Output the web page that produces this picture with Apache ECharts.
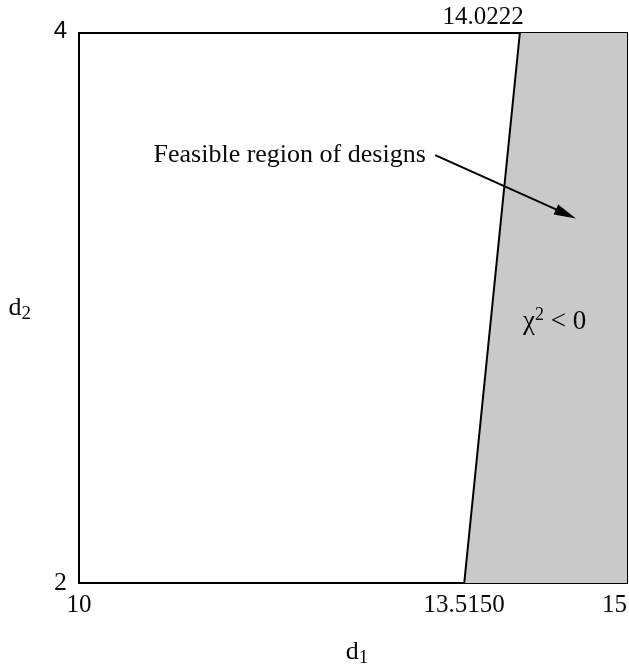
<!DOCTYPE html>
<html>
<head>
<meta charset="utf-8">
<script src="https://cdn.jsdelivr.net/npm/echarts@6/dist/echarts.min.js"></script>
<style>
  html, body { margin: 0; padding: 0; background: #fff; }
  #chart { width: 629px; height: 664px; }
</style>
</head>
<body>
<div id="chart"></div>
<script>
// Axis ranges and tick values
const xRange = [10, 15];
const yRange = [2, 4];
const xTicksBottom = [10, 13.5150, 15];
const xTicksTop = [14.0222];
const yTicks = [2, 4];

// Boundary line chi^2 = 0 through (d1, d2)
const boundaryD1 = [13.5150, 14.0222];
const boundaryD2 = [2, 4];

// Annotation arrow (start -> tip) in data units
const arrowStart = [13.25, 3.556];
const arrowTip = [14.443, 3.342];

// Label anchors in data units
const feasibleLabelAt = [10.68, 3.555];
const chiLabelAt = [14.34, 2.95];

const serif = '"Liberation Serif", "Times New Roman", serif';
const sans = '"Liberation Sans", Arial, sans-serif';
const ink = '#0a0a0a';

const boundaryPts = boundaryD1.map((d1, i) => [d1, boundaryD2[i]]);

const chart = echarts.init(document.getElementById('chart'), null, { renderer: 'canvas' });

const fmtX = v => {
  if (Math.abs(v - 13.515) < 1e-6) return '13.5150';
  if (Math.abs(v - 14.0222) < 1e-6) return '14.0222';
  return String(v);
};

const nameRich = {
  m: { fontFamily: serif, fontSize: 26, color: ink },
  s: { fontFamily: serif, fontSize: 19, color: ink, verticalAlign: 'bottom', padding: [12, 0, 0, 0] }
};

chart.setOption({
  animation: false,
  backgroundColor: '#fff',
  grid: {
    left: 79, right: 2, top: 33, bottom: 81,
    show: true, borderColor: '#000', borderWidth: 2,
    outerBoundsMode: 'none'
  },
  xAxis: [
    {
      type: 'value', min: xRange[0], max: xRange[1], position: 'bottom',
      axisLine: { show: true, lineStyle: { color: '#000', width: 2 } },
      axisTick: { show: false },
      splitLine: { show: false },
      axisLabel: {
        customValues: xTicksBottom,
        formatter: fmtX,
        fontFamily: serif, fontSize: 25, color: ink, margin: 10,
        alignMaxLabel: 'right'
      },
      name: '{m|d}{s|1}',
      nameLocation: 'middle', nameGap: 54,
      nameTextStyle: { rich: nameRich, padding: [0, 0, 0, 8] }
    },
    {
      type: 'value', min: xRange[0], max: xRange[1], position: 'top',
      axisLine: { show: false },
      axisTick: { show: false },
      splitLine: { show: false },
      axisLabel: {
        customValues: xTicksTop,
        formatter: fmtX,
        fontFamily: serif, fontSize: 25, color: ink, margin: 3,
        align: 'right', padding: [0, -4, 0, 0]
      }
    }
  ],
  yAxis: {
    type: 'value', min: yRange[0], max: yRange[1],
    axisLine: { show: true, lineStyle: { color: '#000', width: 2 } },
    axisTick: { show: false },
    splitLine: { show: false },
    axisLabel: {
      customValues: yTicks,
      margin: 12,
      formatter: v => (v === 4 ? '{s|4}' : '{r|' + v + '}'),
      rich: {
        s: { fontFamily: sans, fontSize: 24, color: ink, padding: [0, 0, 3, 0] },
        r: { fontFamily: serif, fontSize: 26, color: ink }
      }
    },
    name: '{m|d}{s|2}',
    nameLocation: 'middle', nameRotate: 0, nameGap: 48,
    nameTextStyle: { rich: nameRich }
  },
  series: [
    {
      // shaded region to the right of the boundary (chi^2 < 0)
      type: 'custom',
      silent: true,
      data: [0],
      renderItem: (params, api) => {
        const poly = [
          boundaryPts[0], boundaryPts[1],
          [xRange[1], yRange[1]], [xRange[1], yRange[0]]
        ].map(p => api.coord(p));
        return {
          type: 'polygon',
          shape: { points: poly },
          style: { fill: '#c9c9c9' }
        };
      },
      z: 1
    },
    {
      type: 'line',
      data: boundaryPts,
      symbol: 'none',
      lineStyle: { color: '#000', width: 2 },
      z: 3,
      markLine: {
        silent: true,
        symbol: ['none', 'triangle'],
        symbolSize: [11, 22],
        lineStyle: { color: '#000', width: 2, type: 'solid' },
        label: { show: false },
        data: [[{ coord: arrowStart }, { coord: arrowTip }]]
      }
    },
    {
      type: 'scatter',
      symbolSize: 0,
      silent: true,
      z: 4,
      itemStyle: { opacity: 1, color: ink },
      data: [
        { value: feasibleLabelAt, label: { formatter: 'Feasible region of designs', align: 'left' } },
        { value: chiLabelAt, label: { formatter: '{a|χ}{p|2}{a| < 0}', align: 'center' } }
      ],
      label: {
        show: true, position: 'inside', opacity: 1,
        fontFamily: serif, fontSize: 26, color: ink,
        textBorderWidth: 0, textShadowBlur: 0,
        rich: {
          a: { fontFamily: serif, fontSize: 27, color: ink, textBorderWidth: 0 },
          p: { fontFamily: serif, fontSize: 18, color: ink, textBorderWidth: 0, verticalAlign: 'top', padding: [0, 0, 12, 0] }
        }
      }
    }
  ]
});
</script>
</body>
</html>
